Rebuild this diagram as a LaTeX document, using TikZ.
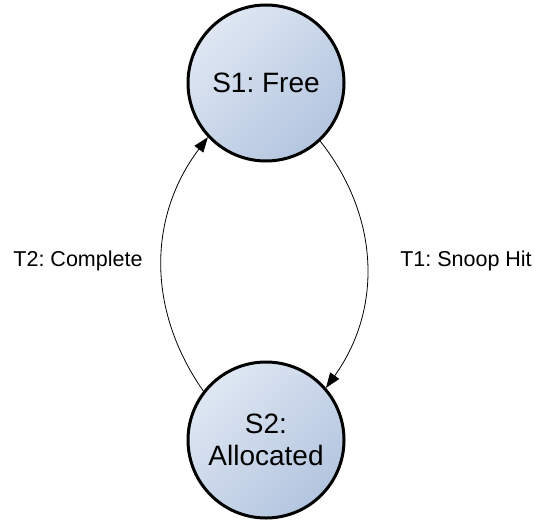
\documentclass[tikz,border=0pt]{standalone}
\usepackage{fontspec}
\setmainfont{Liberation Sans}
\usepackage{tikz}
\usetikzlibrary{positioning,arrows.meta}
\usepackage{xcolor}
\frenchspacing

\definecolor{stateLight}{HTML}{DFE7F3}
\definecolor{stateDark}{HTML}{B3C5DF}

\tikzset{
  state/.style={circle, draw=black, line width=3pt, minimum size=156pt,
    top color=stateLight, bottom color=stateDark, shading angle=45,
    align=center, font=\fontsize{28}{32}\selectfont, inner sep=0pt},
  trans/.style={line width=0.8pt, -{Triangle[length=15pt,width=11pt]}},
  translabel/.style={font=\fontsize{21.5}{24}\selectfont, inner sep=0pt}
}

\begin{document}
\begin{tikzpicture}[x=1pt, y=1pt]
  \useasboundingbox (0, 0) rectangle (534, -519);
  \node [state] (free) at (266, -83) {S1: Free};
  \node [state] (alloc) at (266, -440) {S2:\\Allocated};
  \draw [trans] (free.313) to [bend left=37] (alloc.41);
  \draw [trans] (alloc.142) to [bend left=36] (free.223);
  \node [translabel] (hit) at (466, -261) {T1: Snoop Hit};
  \node [translabel] (done) at (78, -261) {T2: Complete};
\end{tikzpicture}
\end{document}
